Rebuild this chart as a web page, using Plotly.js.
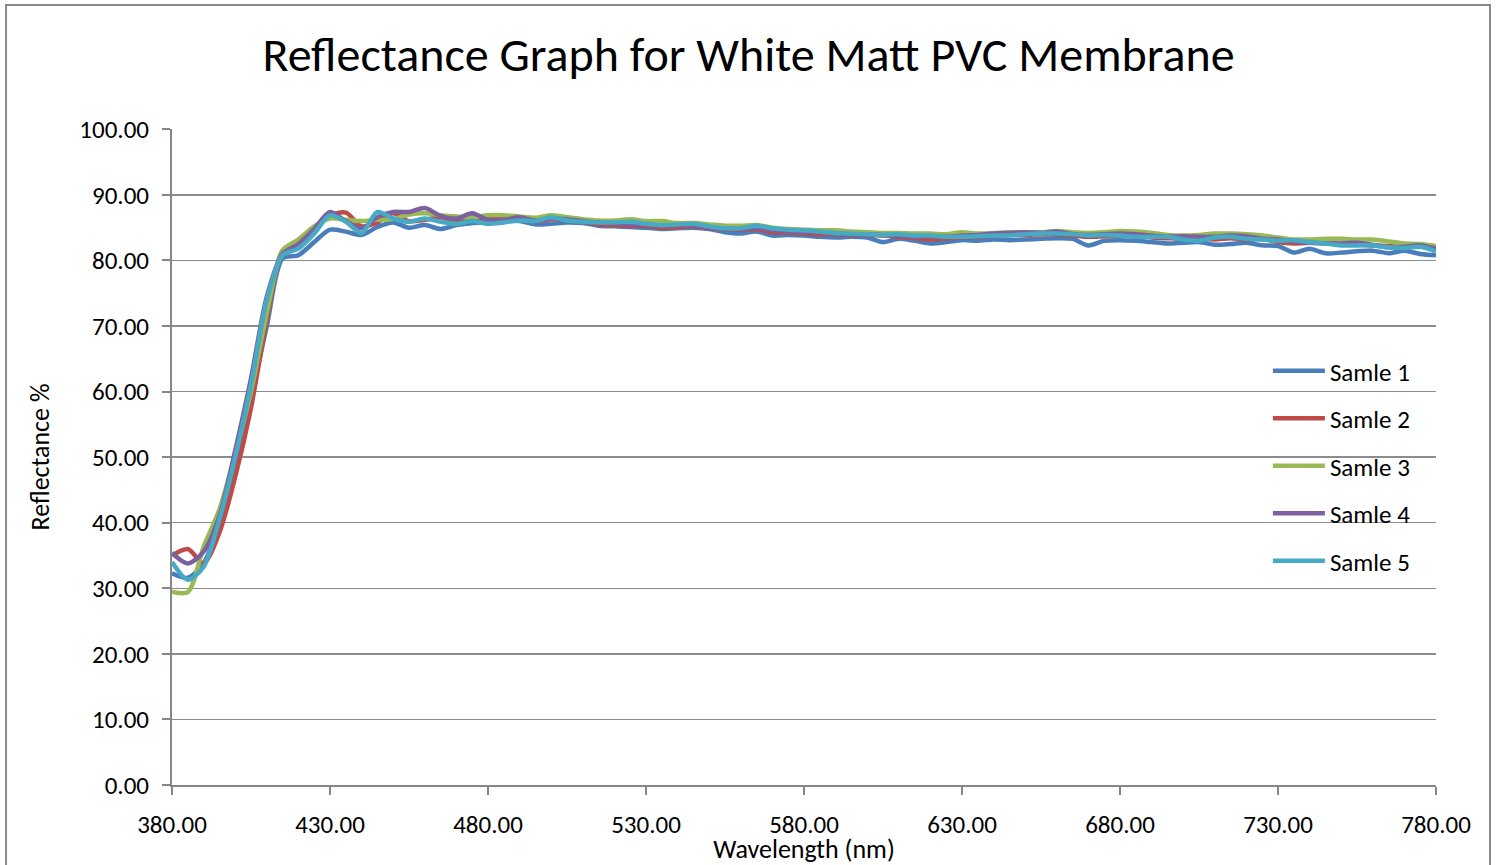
<!DOCTYPE html>
<html>
<head>
<meta charset="utf-8">
<script src="https://cdn.plot.ly/plotly-3.0.1.min.js"></script>
<style>
  html, body { margin: 0; padding: 0; background: #ffffff; overflow: hidden; }
  #chart { width: 1497px; height: 865px; }
</style>
</head>
<body>
<div id="chart"></div>
<script>
const wavelengths = [380,385,390,395,400,405,410,415,420,425,430,435,440,445,450,455,460,465,470,475,480,485,490,495,500,505,510,515,520,525,530,535,540,545,550,555,560,565,570,575,580,585,590,595,600,605,610,615,620,625,630,635,640,645,650,655,660,665,670,675,680,685,690,695,700,705,710,715,720,725,730,735,740,745,750,755,760,765,770,775,780];

const samle1 = [32.3,31.6,33.8,40.0,49.0,59.0,70.0,80.3,80.8,82.8,84.7,84.4,83.9,85.1,85.8,85.0,85.4,84.8,85.4,85.7,85.9,86.1,86.0,85.5,85.6,85.8,85.7,85.3,85.2,85.1,85.0,84.8,84.9,85.0,84.8,84.3,84.1,84.4,83.8,83.9,83.8,83.6,83.5,83.6,83.5,82.8,83.3,83.0,82.6,82.8,83.1,83.0,83.2,83.1,83.2,83.3,83.4,83.3,82.3,83.0,83.1,83.0,82.8,82.6,82.7,82.8,82.4,82.5,82.7,82.3,82.2,81.2,81.8,81.1,81.2,81.4,81.5,81.1,81.5,81.0,80.8];

const samle2 = [35.0,36.0,33.8,38.5,47.0,57.5,71.0,81.5,83.0,85.0,86.8,87.3,85.2,85.8,87.2,86.0,86.2,86.6,86.0,86.3,86.5,86.3,86.4,86.0,86.3,86.2,85.9,85.5,85.4,85.2,85.3,85.0,85.1,85.2,84.9,84.8,84.7,84.8,84.3,84.3,84.1,84.0,84.0,83.9,83.9,83.8,83.6,83.4,83.2,83.4,83.5,83.6,83.8,83.9,83.9,84.0,84.0,83.8,83.6,83.7,83.8,83.8,83.5,83.4,83.3,83.3,83.2,83.4,83.2,83.3,82.8,82.6,82.7,82.8,82.5,82.4,82.3,82.2,82.0,82.2,82.0];

const samle3 = [29.5,29.4,36.3,42.0,50.5,60.0,72.0,81.5,83.2,85.2,86.4,86.2,86.0,86.2,86.3,87.0,87.2,86.9,86.7,86.6,86.9,86.9,86.7,86.5,86.9,86.6,86.3,86.1,86.1,86.3,86.0,86.0,85.7,85.7,85.5,85.3,85.3,85.4,85.0,84.8,84.7,84.6,84.6,84.4,84.3,84.2,84.2,84.1,84.1,84.0,84.3,84.1,84.2,84.3,84.3,84.3,84.5,84.3,84.2,84.3,84.5,84.4,84.2,83.9,83.8,83.9,84.1,84.1,84.0,83.8,83.5,83.2,83.2,83.3,83.3,83.2,83.2,82.9,82.6,82.5,82.2];

const samle4 = [35.4,33.8,35.6,41.0,51.0,62.0,74.5,81.0,82.5,84.8,87.4,86.0,84.9,86.6,87.4,87.4,88.0,86.8,86.4,87.2,86.2,86.2,86.6,86.1,86.4,86.3,86.0,85.8,85.7,85.4,85.5,85.3,85.4,85.4,85.0,84.9,84.8,85.0,84.6,84.5,84.3,84.3,84.1,84.0,84.0,83.9,83.8,83.6,83.7,83.6,83.8,83.9,84.1,84.2,84.3,84.2,84.4,84.0,83.9,84.0,84.1,84.0,83.8,83.6,83.7,83.6,83.6,83.8,83.7,83.3,83.2,82.9,82.7,82.6,82.6,82.7,82.4,82.0,82.1,82.3,81.8];

const samle5 = [34.0,31.3,33.3,40.5,50.0,61.0,74.0,80.8,81.8,84.1,86.9,85.9,84.2,87.4,86.4,85.9,86.4,85.9,85.6,86.0,85.6,85.8,86.1,86.0,86.6,86.1,85.9,85.8,85.8,85.9,85.6,85.4,85.5,85.6,85.2,84.9,84.9,85.3,84.9,84.7,84.6,84.4,84.2,84.1,84.0,83.9,84.0,83.8,83.8,83.6,83.6,83.7,83.8,83.8,84.0,84.1,84.1,84.0,83.8,83.9,83.8,83.6,83.6,83.6,83.2,83.0,83.5,83.6,83.3,83.2,83.0,83.1,82.8,82.6,82.3,82.3,82.3,82.0,81.9,82.1,81.4];

const seriesNames = ['Samle 1','Samle 2','Samle 3','Samle 4','Samle 5'];
const seriesColors = ['#4A7EBB','#BE4B48','#98B954','#7D60A0','#46AAC5'];
const seriesData = [samle1, samle2, samle3, samle4, samle5];

const xTicks = [380,430,480,530,580,630,680,730,780];
const yTicks = [0,10,20,30,40,50,60,70,80,90,100];

const fontFam = 'Carlito, Calibri, Lato, "Open Sans", sans-serif';

const traces = seriesData.map((d, i) => ({
  type: 'scatter',
  mode: 'lines',
  x: wavelengths,
  y: d,
  name: seriesNames[i],
  legendgroup: 'g' + i,
  line: { color: seriesColors[i], width: 4.5, shape: 'spline', smoothing: 0.8 },
  hoverinfo: 'x+y+name'
}));

const layout = {
  width: 1497,
  height: 865,
  paper_bgcolor: '#ffffff',
  plot_bgcolor: '#ffffff',
  margin: { l: 172, r: 61, t: 129, b: 80 },
  font: { family: fontFam, color: '#000000', size: 25 },
  title: {
    text: 'Reflectance Graph for White Matt PVC Membrane',
    font: { family: fontFam, size: 48, color: '#000000' },
    x: 0.5, xref: 'container', xanchor: 'center',
    y: 0.937, yref: 'container', yanchor: 'middle'
  },
  xaxis: {
    range: [380, 780],
    tickmode: 'array',
    tickvals: xTicks,
    ticktext: xTicks.map(v => v.toFixed(2)),
    ticks: 'outside', ticklen: 8, tickwidth: 2, tickcolor: '#868686',
    ticklabelstandoff: 8,
    showline: true, linecolor: '#868686', linewidth: 2,
    showgrid: false, zeroline: false,
    tickfont: { family: fontFam, size: 25, color: '#000000' },
    title: { text: 'Wavelength (nm)', font: { family: fontFam, size: 26, color: '#000000' }, standoff: 5 },
    automargin: false,
    fixedrange: true
  },
  yaxis: {
    range: [0, 100.05],
    tickmode: 'array',
    tickvals: yTicks,
    ticktext: yTicks.map(v => v.toFixed(2)),
    ticks: 'outside', ticklen: 8, tickwidth: 2, tickcolor: '#868686',
    ticklabelstandoff: 8,
    showline: true, linecolor: '#868686', linewidth: 2,
    showgrid: true, gridcolor: '#8c8c8c', gridwidth: 1.5,
    zeroline: false,
    tickfont: { family: fontFam, size: 25, color: '#000000' },
    title: { text: 'Reflectance %', font: { family: fontFam, size: 26, color: '#000000' }, standoff: 22 },
    automargin: false,
    fixedrange: true
  },
  showlegend: true,
  legend: {
    x: 0.867, y: 0.666, xanchor: 'left', yanchor: 'top',
    bgcolor: 'rgba(255,255,255,0)',
    borderwidth: 0,
    font: { family: fontFam, size: 25, color: '#000000' },
    tracegroupgap: 12,
    itemwidth: 52
  },
  shapes: [{
    type: 'rect', xref: 'paper', yref: 'paper',
    x0: -0.1313, x1: 1.0427, y0: -0.3, y1: 1.189,
    line: { color: '#8a8a8a', width: 2 },
    fillcolor: 'rgba(0,0,0,0)', layer: 'below'
  }]
};

Plotly.newPlot('chart', traces, layout, { displayModeBar: false, staticPlot: true });
</script>
</body>
</html>
